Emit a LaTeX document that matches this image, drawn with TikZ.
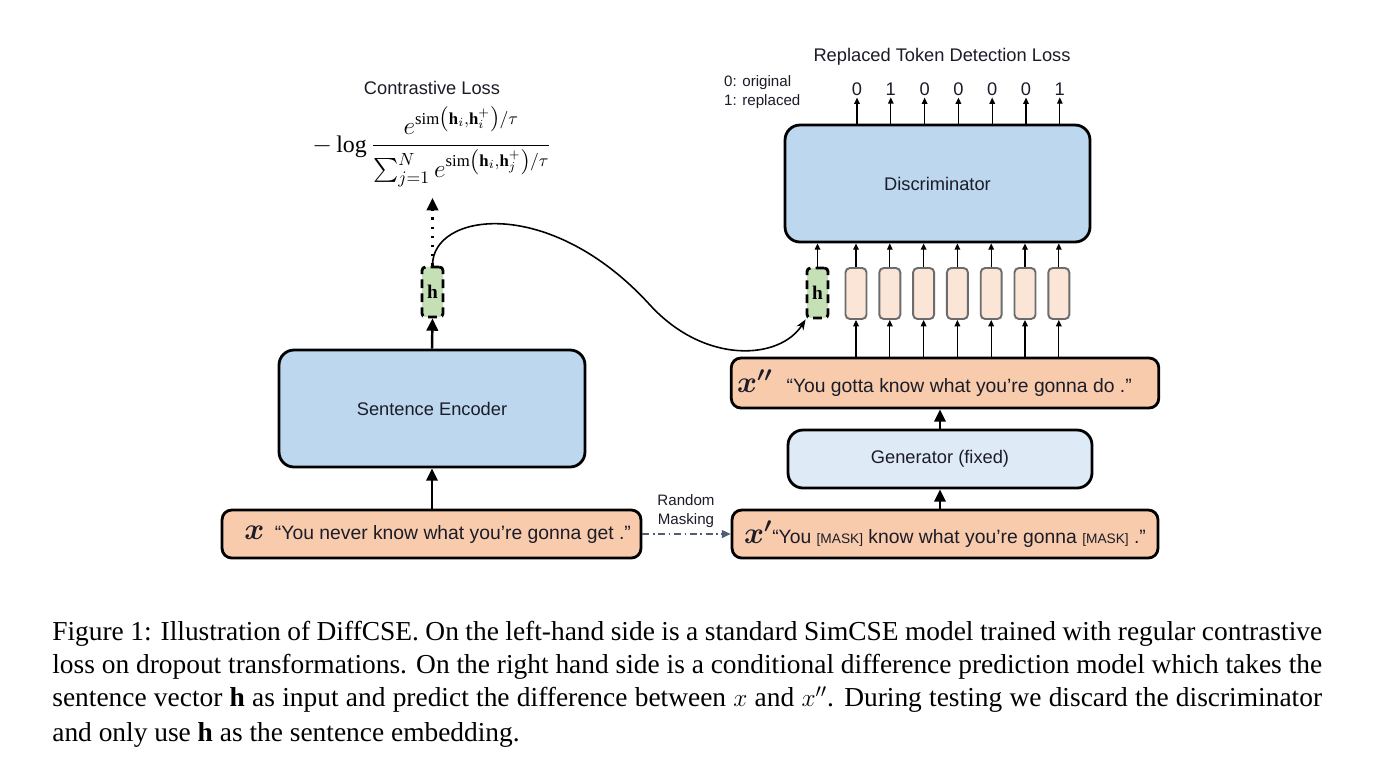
\documentclass[tikz,border=0pt]{standalone}
\usepackage{amsmath}
\usepackage{amssymb}
\usepackage{fontspec}
\setmainfont{Liberation Serif}
\setsansfont{Liberation Sans}
\usepackage{tikz}
\usetikzlibrary{arrows.meta, positioning, calc}

\definecolor{inpeach}{HTML}{F8CBAD}
\definecolor{tokpeach}{HTML}{FBE5D6}
\definecolor{encblue}{HTML}{BDD7EE}
\definecolor{genblue}{HTML}{DEEBF7}
\definecolor{hgreen}{HTML}{C5E0B4}
\definecolor{maskline}{HTML}{4F5E70}
\definecolor{inktext}{HTML}{1C1C28}

\newcommand{\sentvar}[1]{{\fontsize{17}{17}\selectfont$\boldsymbol{#1}$}}
\newcommand{\masktok}{{\fontsize{7.8}{8}\selectfont[MASK]}}

\tikzset{
  sentbox/.style={
    rectangle, rounded corners=5.5pt,
    minimum width=8.38cm, minimum height=0.96cm,
    font=\sffamily\fontsize{11}{13}\selectfont,
    draw=black, line width=1.6pt, fill=inpeach, text=inktext
  },
  modelbox/.style={
    rectangle, rounded corners=8.5pt,
    text centered, font=\sffamily\fontsize{10.4}{12}\selectfont,
    draw=black, line width=1.6pt, fill=#1, text=inktext
  },
  hvec/.style={
    rectangle, rounded corners=2pt, inner sep=0pt,
    minimum width=0.42cm, minimum height=1.0cm,
    draw=black, line width=1.6pt, dash pattern=on 5pt off 3pt,
    fill=hgreen, font=\fontsize{11}{11}\selectfont
  },
  tokvec/.style={
    rectangle, rounded corners=2.5pt,
    minimum width=0.42cm, minimum height=1.02cm,
    draw=gray!85!black, line width=1.1pt, fill=tokpeach
  },
  lbl/.style={font=\sffamily\fontsize{10.4}{12}\selectfont, text=inktext},
  smalllbl/.style={font=\sffamily\fontsize{8.6}{10.5}\selectfont, text=inktext},
  bigarrow/.style={-{Triangle[length=7pt,width=6.5pt]}, line width=1.4pt},
  smallarrow/.style={-{Triangle[length=3.6pt,width=3.2pt]}, line width=0.7pt},
  capline/.style={anchor=west, inner sep=0pt, font=\fontsize{15.6}{18}\selectfont},
}

\begin{document}
\begin{tikzpicture}[x=0.02cm, y=-0.02cm]
  \useasboundingbox[fill=white] (0,0) rectangle (1388,769);

  % left: SimCSE branch
  \node[sentbox] (xin) at (431.5,534) {\hspace*{7pt}\sentvar{x}\hspace{6pt}“You never know what you’re gonna get .”};
  \node[modelbox=encblue, minimum width=6.12cm, minimum height=2.34cm] (enc) at (432,408.5) {Sentence Encoder};
  \node[hvec] (hL) at (432.5,292) {$\mathbf{h}$};
  \coordinate (cl) at (432.5,198);
  \node[font=\fontsize{13.6}{16}\selectfont] (form) at (432,147)
    {$-\log\dfrac{e^{\mathrm{sim}\left(\mathbf{h}_i,\mathbf{h}_i^{+}\right)/\tau}}{\sum_{j=1}^{N}e^{\mathrm{sim}\left(\mathbf{h}_i,\mathbf{h}_j^{+}\right)/\tau}}$};
  \node[lbl] (closs) at (432,88) {Contrastive Loss};

  \draw[bigarrow] (xin.north -| enc) -- (enc.south);
  \draw[bigarrow] (enc.north) -- (hL.south);
  \draw[-{Triangle[length=7pt,width=6.5pt]}, line width=1.4pt, dash pattern=on 1.4pt off 3.8pt] (hL.north) -- (cl);

  % right: conditional difference prediction
  \node[sentbox, minimum width=8.52cm] (xp) at (945,534) {\sentvar{x'}“You \masktok{} know what you’re gonna \masktok{} .”};
  \node[modelbox=genblue, minimum width=6.08cm, minimum height=1.16cm] (gen) at (940,459) {Generator (fixed)};
  \node[sentbox, minimum width=8.52cm, minimum height=1.0cm] (xpp) at (945,383) {\sentvar{x''}\hspace{8pt}“You gotta know what you’re gonna do .”\hspace*{12pt}};
  \node[hvec] (hR) at (817.5,293) {$\mathbf{h}$};
  \node[modelbox=encblue, minimum width=6.1cm, minimum height=2.34cm] (disc) at (937.5,183.5) {Discriminator};
  \node[lbl] (rtd) at (942,57) {Replaced Token Detection Loss};
  \node[smalllbl, anchor=west, align=left] (legend) at (718,92) {0: original\\1: replaced};
  \node[smalllbl, align=center] (mask) at (686,511) {Random\\Masking};

  \draw[bigarrow] (xp.north -| gen) -- (gen.south);
  \draw[bigarrow] (gen.north) -- (xpp.south -| gen);
  \draw[-{Triangle[length=5pt,width=4.5pt]}, line width=0.8pt, color=maskline, dash pattern=on 4pt off 2pt on 1pt off 2pt] (xin.east) -- (xp.west);

  \foreach \i/\lab in {1/0,2/1,3/0,4/0,5/0,6/0,7/1}{
    \node[tokvec] (t\i) at ({856+33.8*(\i-1)},293.5) {};
    \node[lbl, inner sep=1pt] (o\i) at ({857+33.8*(\i-1)},89) {\lab};
    \draw[smallarrow] (t\i.south |- xpp.north) -- (t\i.south);
    \draw[smallarrow] (t\i.north) -- (t\i.north |- disc.south);
    \draw[smallarrow] (o\i.south |- disc.north) -- (o\i.south);
  }
  \draw[smallarrow] (hR.north) -- (hR.north |- disc.south);

  % h is passed to the discriminator
  \draw[line width=0.9pt, -{Stealth[length=6pt,width=4.5pt]}]
    (hL.north) .. controls (432,212) and (550,195) .. (650,305)
    .. controls (705,365) and (780,360) .. (hR.south west);

  % caption
  \node[capline] (cap1) at (52,634) {\makebox[25.4cm][s]{Figure 1: Illustration of DiffCSE. On the left-hand side is a standard SimCSE model trained with regular contrastive}};
  \node[capline] (cap2) at (52,667) {\makebox[25.4cm][s]{loss on dropout transformations. On the right hand side is a conditional difference prediction model which takes the}};
  \node[capline] (cap3) at (52,700) {\makebox[25.4cm][s]{sentence vector $\mathbf{h}$ as input and predict the difference between $x$ and $x''$. During testing we discard the discriminator}};
  \node[capline] (cap4) at (52,735) {and only use $\mathbf{h}$ as the sentence embedding.};
\end{tikzpicture}
\end{document}
